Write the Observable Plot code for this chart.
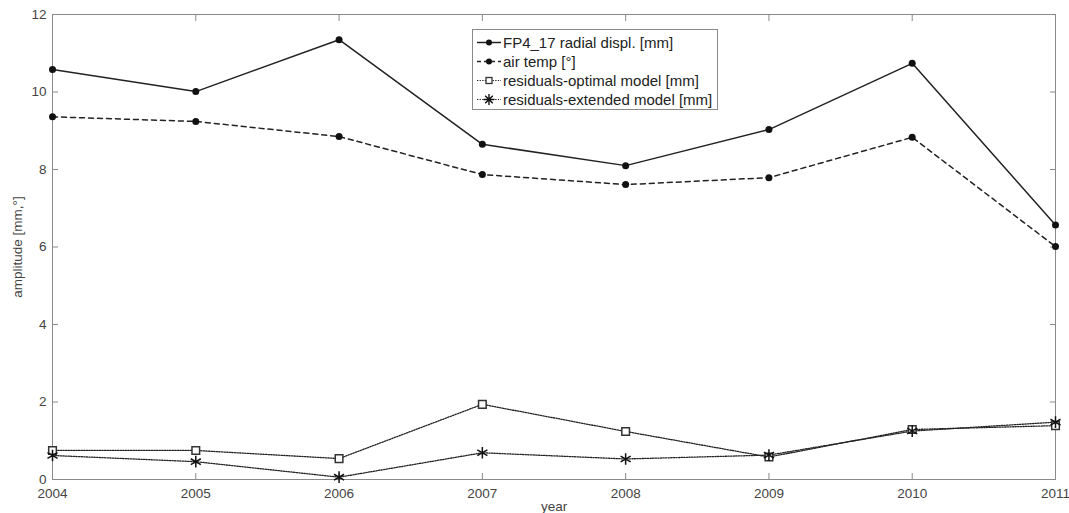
<!DOCTYPE html>
<html>
<head>
<meta charset="utf-8">
<script src="https://cdn.jsdelivr.net/npm/d3@7"></script>
<script src="https://cdn.jsdelivr.net/npm/@observablehq/plot@0.6"></script>
<style>
  body { margin: 0; background: #fff; }
  #wrap { position: relative; width: 1069px; height: 513px; font-family: "Liberation Sans", Arial, sans-serif; }
  #legend { position: absolute; left: 472px; top: 29px; width: 244px; height: 79px; border: 1px solid #8a8a8a; background: #fff; font-size: 15px; color: #222; }
  .row { position: absolute; left: 0; height: 19px; display: flex; align-items: center; white-space: nowrap; }
  .row svg { width: 30px; height: 19px; }
</style>
</head>
<body>
<div id="wrap"></div>
<script>
const years = [2004, 2005, 2006, 2007, 2008, 2009, 2010, 2011];
const fp4 = [10.58, 10.01, 11.35, 8.65, 8.10, 9.03, 10.74, 6.57];
const airTemp = [9.36, 9.24, 8.85, 7.87, 7.61, 7.79, 8.83, 6.01];
const resOpt = [0.75, 0.75, 0.54, 1.94, 1.24, 0.58, 1.29, 1.39];
const resExt = [0.62, 0.46, 0.06, 0.69, 0.53, 0.63, 1.25, 1.48];
const yTicks = [0, 2, 4, 6, 8, 10, 12];
const seriesNames = ["FP4_17 radial displ. [mm]", "air temp [°]", "residuals-optimal model [mm]", "residuals-extended model [mm]"];

const mk = (vals) => years.map((x, i) => ({x, y: vals[i]}));
const dFp4 = mk(fp4), dAir = mk(airTemp), dOpt = mk(resOpt), dExt = mk(resExt);

const DOT = "1.3,1.3";

const chart = Plot.plot({
  width: 1069,
  height: 513,
  marginLeft: 52,
  marginRight: 14,
  marginTop: 14,
  marginBottom: 34,
  style: {fontFamily: "Liberation Sans, Arial, sans-serif", fontSize: "13.5px", color: "#444", background: "#fff"},
  x: {domain: [2004, 2011]},
  y: {domain: [0, 12]},
  marks: [
    Plot.frame({stroke: "#8a8a8a"}),
    Plot.axisX({ticks: years, tickSize: -6, text: null, label: null, stroke: "#8a8a8a"}),
    Plot.axisX({anchor: "top", ticks: years, tickSize: -6, text: null, label: null, stroke: "#8a8a8a"}),
    Plot.axisY({ticks: yTicks, tickSize: -6, text: null, label: null, stroke: "#8a8a8a"}),
    Plot.axisY({anchor: "right", ticks: yTicks, tickSize: -6, text: null, label: null, stroke: "#8a8a8a"}),
    Plot.axisX({ticks: years, tickSize: 0, tickPadding: 8.5, tickFormat: d => String(d), label: "year", labelAnchor: "center", labelArrow: "none", labelOffset: 31, fill: "#444"}),
    Plot.axisY({ticks: yTicks, tickSize: 0, tickPadding: 6, label: "amplitude [mm,°]", labelAnchor: "center", labelArrow: "none", labelOffset: 40, fill: "#444"}),
    Plot.line(dOpt, {x: "x", y: "y", stroke: "#222", strokeWidth: 1.3, strokeDasharray: DOT}),
    Plot.line(dExt, {x: "x", y: "y", stroke: "#222", strokeWidth: 1.3, strokeDasharray: DOT}),
    Plot.line(dAir, {x: "x", y: "y", stroke: "#222", strokeWidth: 1.5, strokeDasharray: "5,4"}),
    Plot.line(dFp4, {x: "x", y: "y", stroke: "#222", strokeWidth: 1.5}),
    Plot.dot(dOpt, {x: "x", y: "y", symbol: "square", r: 4.3, fill: "#fff", stroke: "#333", strokeWidth: 1.5}),
    Plot.dot(dExt, {x: "x", y: "y", symbol: "asterisk", r: 5.5, stroke: "#111", strokeWidth: 1.5}),
    Plot.dot(dAir, {x: "x", y: "y", r: 3.5, fill: "#111"}),
    Plot.dot(dFp4, {x: "x", y: "y", r: 3.5, fill: "#111"})
  ]
});
const wrap = document.getElementById("wrap");
wrap.appendChild(chart);

// legend
const legend = document.createElement("div");
legend.id = "legend";
const styles = [
  {dash: null, sym: "circle"},
  {dash: "4,3", sym: "circle"},
  {dash: DOT, sym: "square"},
  {dash: DOT, sym: "asterisk"}
];
seriesNames.forEach((name, i) => {
  const row = document.createElement("div");
  row.className = "row";
  row.style.top = (3 + i * 19) + "px";
  const s = styles[i];
  let sym = "";
  if (s.sym === "circle") sym = `<circle cx="16" cy="9.5" r="3" fill="#111"/>`;
  if (s.sym === "square") sym = `<rect x="13" y="6.5" width="6" height="6" fill="#fff" stroke="#333" stroke-width="1.3"/>`;
  if (s.sym === "asterisk") sym = `<path d="M16,4V15M10.5,9.5H21.5M12.2,5.7L19.8,13.3M19.8,5.7L12.2,13.3" stroke="#111" stroke-width="1.4"/>`;
  row.innerHTML = `<svg viewBox="0 0 30 19"><line x1="4" x2="28" y1="9.5" y2="9.5" stroke="#222" stroke-width="${i < 2 ? 1.5 : 1.2}" ${s.dash ? `stroke-dasharray="${s.dash}"` : ""}/>${sym}</svg><span>${name}</span>`;
  legend.appendChild(row);
});
wrap.appendChild(legend);
</script>
</body>
</html>
